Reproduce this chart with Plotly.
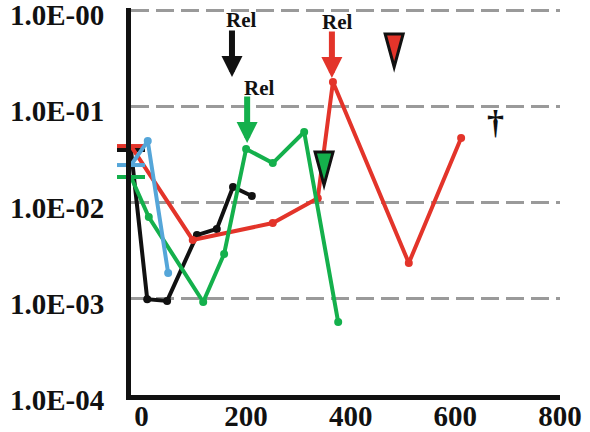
import numpy as np
import plotly.graph_objects as go

# Days after transplant and measured residual fraction, one list pair per patient
black_day = [-20, 11, 49, 106, 144, 175, 211]
black_val = [0.0351, 0.00099, 0.00095, 0.00459, 0.00531, 0.0145, 0.0117]

red_day = [-20, 98, 251, 337, 366, 511, 611]
red_val = [0.0386, 0.00408, 0.00612, 0.0111, 0.1786, 0.00235, 0.0468]

green_day = [-20, 14, 118, 158, 200, 251, 311, 376]
green_val = [0.0184, 0.00707, 0.000925, 0.00292, 0.0360, 0.0257, 0.054, 0.000573]

blue_day = [-20, 12, 51]
blue_val = [0.0245, 0.0435, 0.00185]

# Relapse events: arrow tip (day, value), colour, label anchor (day, value)
rel_day = [173, 364, 202]
rel_val = [0.2014, 0.1966, 0.0415]
rel_color = ["#111111", "#e3342a", "#14b04c"]
rel_label_day = [190, 374, 225]
rel_label_val = [0.787, 0.750, 0.155]

# Treatment events (down triangles) and death marker
tri_day = [483, 349]
tri_val = [0.384, 0.0228]
tri_color = ["#e3342a", "#14b04c"]
death_day = [676]
death_val = [0.0686]

x_ticks = [0, 200, 400, 600, 800]
y_ticks = [1e0, 1e-1, 1e-2, 1e-3, 1e-4]
y_tick_text = ["1.0E-00", "1.0E-01", "1.0E-02", "1.0E-03", "1.0E-04"]

series = [
    (black_day, black_val, "#111111"),
    (red_day, red_val, "#e3342a"),
    (green_day, green_val, "#14b04c"),
    (blue_day, blue_val, "#55a6d9"),
]

fig = go.Figure()
for days, vals, color in series:
    symbols = ["line-ew"] + ["circle"] * (len(days) - 1)
    sizes = [20] + [8] * (len(days) - 1)
    fig.add_trace(go.Scatter(
        x=days, y=vals, mode="lines+markers",
        line=dict(color=color, width=4),
        marker=dict(symbol=symbols, size=sizes, color=color, opacity=1,
                    line=dict(color=color, width=[4] + [0] * (len(days) - 1))),
        cliponaxis=False, showlegend=False, hoverinfo="skip",
    ))

serif_bold = dict(family="Liberation Serif", size=29, color="#111111", weight="bold")

annotations = []
for d, v, c in zip(rel_day, rel_val, rel_color):
    annotations.append(dict(
        x=d, y=np.log10(v), xref="x", yref="y", text="",
        showarrow=True, ax=0, ay=-48, axref="pixel", ayref="pixel",
        arrowhead=2, arrowsize=0.7, arrowwidth=6, arrowcolor=c, standoff=0,
    ))
for d, v in zip(rel_label_day, rel_label_val):
    annotations.append(dict(
        x=d, y=np.log10(v), xref="x", yref="y", text="Rel", showarrow=False,
        font=dict(family="Liberation Serif", size=21, color="#111111", weight="bold"),
    ))
for d, v in zip(death_day, death_val):
    annotations.append(dict(
        x=d, y=np.log10(v), xref="x", yref="y", text="†", showarrow=False,
        font=dict(family="Liberation Serif", size=34, color="#111111", weight="bold"),
    ))

shapes = []
for d, v, c in zip(tri_day, tri_val, tri_color):
    shapes.append(dict(
        type="path", xref="x", yref="y", xsizemode="pixel", ysizemode="pixel",
        xanchor=d, yanchor=v, path="M-9,16L9,16L0,-17Z",
        fillcolor=c, line=dict(color="#111111", width=3), layer="above",
    ))

fig.update_layout(
    width=590, height=432,
    margin=dict(l=131, r=30, t=8, b=37, autoexpand=False),
    paper_bgcolor="white", plot_bgcolor="white",
    annotations=annotations, shapes=shapes,
    hovermode=False,
)
fig.update_xaxes(
    range=[-20, 800], tickvals=x_ticks, ticks="", showgrid=False, zeroline=False,
    showline=True, linecolor="#111111", linewidth=5, automargin=False,
    tickfont=serif_bold, ticklabelstandoff=-9, ticklabeloverflow="allow",
)
fig.update_yaxes(
    type="log", range=[-4.0, 0.0208], tickvals=y_ticks, ticktext=y_tick_text, ticks="",
    showgrid=True, gridcolor="#9a9a9a", gridwidth=2.5, griddash="18px,7px",
    zeroline=False, showline=True, linecolor="#111111", linewidth=5, automargin=False,
    tickfont=serif_bold, ticklabelstandoff=16, ticklabelshift=5,
    ticklabeloverflow="allow",
)

fig.write_html("out.html")
